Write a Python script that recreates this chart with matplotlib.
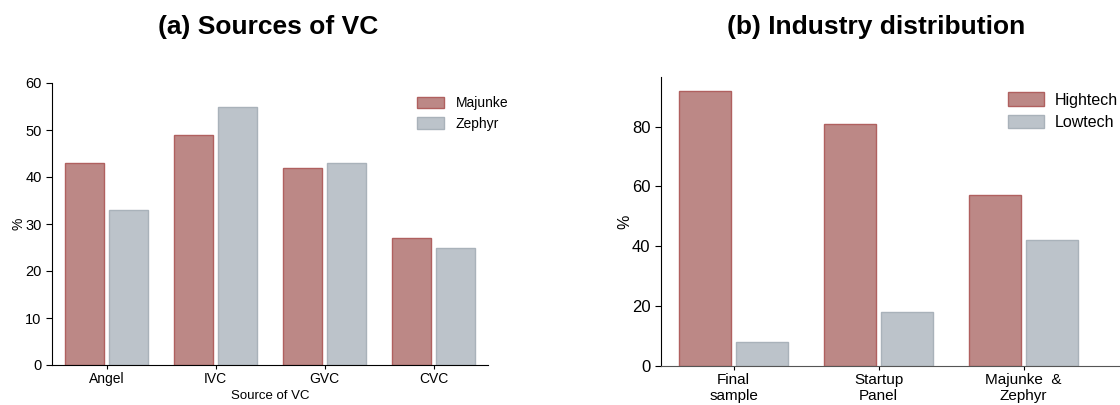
import matplotlib
matplotlib.use("Agg")
import matplotlib.pyplot as plt
import numpy as np

plt.rcParams['font.family'] = ['Liberation Sans', 'DejaVu Sans']

# Data
vc_sources = ["Angel", "IVC", "GVC", "CVC"]
majunke = [43, 49, 42, 27]
zephyr = [33, 55, 43, 25]

industry_groups = ["Final\nsample", "Startup\nPanel", "Majunke  &\nZephyr"]
hightech = [92, 81, 57]
lowtech = [8, 18, 42]

red_face = "#bc8886"
red_edge = "#b0605f"
gray_face = "#bcc3ca"
gray_edge = "#a9b2ba"

fig = plt.figure(figsize=(11.2, 4.05), dpi=100)
W, H = 1120, 405

def ax_rect(x0, x1, ytop, ybot):
    return [x0 / W, 1 - ybot / H, (x1 - x0) / W, (ybot - ytop) / H]

# Left panel
ax1 = fig.add_axes(ax_rect(52, 488, 83, 365))
x = np.arange(len(vc_sources))
bw = 0.36
ax1.bar(x - 0.2, majunke, bw, color=red_face, edgecolor=red_edge, linewidth=1, label="Majunke")
ax1.bar(x + 0.2, zephyr, bw, color=gray_face, edgecolor=gray_edge, linewidth=1, label="Zephyr")
ax1.set_xlim(-0.5, 3.5)
ax1.set_ylim(0, 60)
ax1.set_yticks(range(0, 61, 10))
ax1.set_xticks(x)
ax1.set_xticklabels(vc_sources, fontsize=10)
ax1.tick_params(axis='y', labelsize=10.5, length=4, width=0.8)
ax1.tick_params(axis='x', length=3, width=0.8, pad=2)
ax1.set_ylabel("%", fontsize=10, labelpad=0)
ax1.set_xlabel("Source of VC", fontsize=9.5, labelpad=3)
for s in ["top", "right"]:
    ax1.spines[s].set_visible(False)
ax1.legend(loc="upper left", bbox_to_anchor=(404 / W, 1 - 84 / H), bbox_transform=fig.transFigure,
           frameon=False, fontsize=10, handlelength=2.0, handleheight=0.9, handletextpad=0.8,
           labelspacing=0.45)
fig.text(268 / W, 1 - 27 / H, "(a) Sources of VC", ha="center", va="center",
         fontsize=19, fontweight="bold")

# Right panel
ax2 = fig.add_axes(ax_rect(661, 1125, 77, 365.7))
x2 = np.arange(len(industry_groups))
ax2.bar(x2 - 0.195, hightech, bw, color=red_face, edgecolor=red_edge, linewidth=1, label="Hightech")
ax2.bar(x2 + 0.195, lowtech, bw, color=gray_face, edgecolor=gray_edge, linewidth=1, label="Lowtech")
ax2.set_xlim(-0.5, 2.7)
ax2.set_ylim(0, 96.6)
ax2.set_yticks(range(0, 81, 20))
ax2.set_xticks(x2)
ax2.set_xticklabels(industry_groups, fontsize=11, linespacing=1.25)
ax2.tick_params(axis='y', labelsize=12, length=4, width=0.8)
ax2.tick_params(axis='x', length=3, width=0.8, pad=2)
ax2.set_ylabel("%", fontsize=11.5, labelpad=0)
for s in ["top", "right"]:
    ax2.spines[s].set_visible(False)
ax2.spines["bottom"].set_color("#555555")
ax2.legend(loc="upper left", bbox_to_anchor=(1002 / W, 1 - 86 / H), bbox_transform=fig.transFigure,
           frameon=False, fontsize=11.5, handlelength=2.2, handleheight=0.9, handletextpad=0.7,
           labelspacing=0.45, borderaxespad=0.0)
fig.text(876 / W, 1 - 27 / H, "(b) Industry distribution", ha="center", va="center",
         fontsize=19, fontweight="bold")

fig.savefig("out.png", dpi=100)
